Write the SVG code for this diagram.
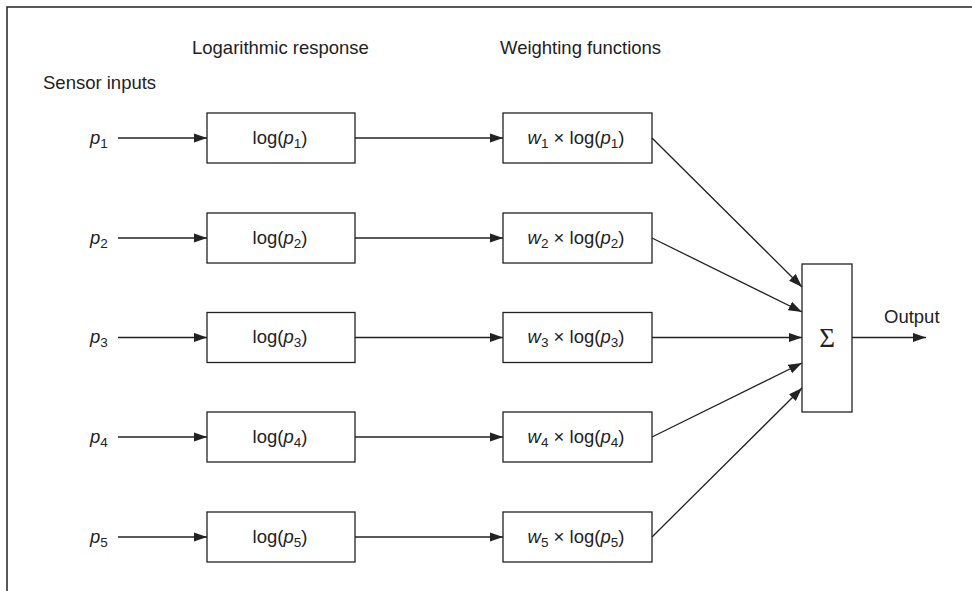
<svg xmlns="http://www.w3.org/2000/svg" width="972" height="591" viewBox="0 0 972 591">
<style>
text{font-family:"Liberation Sans",Arial,sans-serif;font-size:18.5px;fill:#222}
.c{text-anchor:middle}
.i{font-style:italic}
.s{font-size:13.5px}
.box{fill:#fff;stroke:#222;stroke-width:1.3}
.ln{stroke:#222;stroke-width:1.3;fill:none;marker-end:url(#ah)}
.sig{font-family:"Liberation Serif","Times New Roman",serif;font-size:27px}
</style>
<defs>
<marker id="ah" markerUnits="userSpaceOnUse" markerWidth="14" markerHeight="10" refX="13.5" refY="4.75" orient="auto">
<path d="M0,0 L13.5,4.75 L0,9.5 Z" fill="#222"/>
</marker>
</defs>
<rect width="972" height="591" fill="#fff"/>
<path d="M7,591 V7 H972" fill="none" stroke="#222" stroke-width="1.5"/>
<g id="headers">
<text x="43" y="89">Sensor inputs</text>
<text x="192" y="54">Logarithmic response</text>
<text x="500" y="54">Weighting functions</text>
</g>
<g id="inputs">
<text x="90" y="144" class="i">p<tspan class="s" dy="4" font-style="normal">1</tspan></text>
<text x="90" y="244" class="i">p<tspan class="s" dy="4" font-style="normal">2</tspan></text>
<text x="90" y="343" class="i">p<tspan class="s" dy="4" font-style="normal">3</tspan></text>
<text x="90" y="443" class="i">p<tspan class="s" dy="4" font-style="normal">4</tspan></text>
<text x="90" y="543" class="i">p<tspan class="s" dy="4" font-style="normal">5</tspan></text>
</g>
<g id="log1"><rect class="box" x="207" y="113" width="148" height="50"/><text class="c" x="280" y="144">log(<tspan class="i">p</tspan><tspan class="s" dy="4">1</tspan><tspan dy="-4">)</tspan></text></g>
<g id="log2"><rect class="box" x="207" y="213" width="148" height="50"/><text class="c" x="280" y="244">log(<tspan class="i">p</tspan><tspan class="s" dy="4">2</tspan><tspan dy="-4">)</tspan></text></g>
<g id="log3"><rect class="box" x="207" y="312.5" width="148" height="50"/><text class="c" x="280" y="343">log(<tspan class="i">p</tspan><tspan class="s" dy="4">3</tspan><tspan dy="-4">)</tspan></text></g>
<g id="log4"><rect class="box" x="207" y="412" width="148" height="50"/><text class="c" x="280" y="443">log(<tspan class="i">p</tspan><tspan class="s" dy="4">4</tspan><tspan dy="-4">)</tspan></text></g>
<g id="log5"><rect class="box" x="207" y="512" width="148" height="50"/><text class="c" x="280" y="543">log(<tspan class="i">p</tspan><tspan class="s" dy="4">5</tspan><tspan dy="-4">)</tspan></text></g>
<g id="w1"><rect class="box" x="503" y="113" width="149" height="50"/><text class="c" x="576" y="144"><tspan class="i">w</tspan><tspan class="s" dy="4">1</tspan><tspan dy="-4"> × log(</tspan><tspan class="i">p</tspan><tspan class="s" dy="4">1</tspan><tspan dy="-4">)</tspan></text></g>
<g id="w2"><rect class="box" x="503" y="213" width="149" height="50"/><text class="c" x="576" y="244"><tspan class="i">w</tspan><tspan class="s" dy="4">2</tspan><tspan dy="-4"> × log(</tspan><tspan class="i">p</tspan><tspan class="s" dy="4">2</tspan><tspan dy="-4">)</tspan></text></g>
<g id="w3"><rect class="box" x="503" y="312.5" width="149" height="50"/><text class="c" x="576" y="343"><tspan class="i">w</tspan><tspan class="s" dy="4">3</tspan><tspan dy="-4"> × log(</tspan><tspan class="i">p</tspan><tspan class="s" dy="4">3</tspan><tspan dy="-4">)</tspan></text></g>
<g id="w4"><rect class="box" x="503" y="412" width="149" height="50"/><text class="c" x="576" y="443"><tspan class="i">w</tspan><tspan class="s" dy="4">4</tspan><tspan dy="-4"> × log(</tspan><tspan class="i">p</tspan><tspan class="s" dy="4">4</tspan><tspan dy="-4">)</tspan></text></g>
<g id="w5"><rect class="box" x="503" y="512" width="149" height="50"/><text class="c" x="576" y="543"><tspan class="i">w</tspan><tspan class="s" dy="4">5</tspan><tspan dy="-4"> × log(</tspan><tspan class="i">p</tspan><tspan class="s" dy="4">5</tspan><tspan dy="-4">)</tspan></text></g>
<g id="sum"><rect class="box" x="802" y="264" width="50" height="148"/><text class="c sig" x="827" y="347">Σ</text></g>
<g id="output"><text x="884" y="323">Output</text></g>
<g id="connectors">
<line class="ln" x1="118" y1="138" x2="207" y2="138"/>
<line class="ln" x1="118" y1="238" x2="207" y2="238"/>
<line class="ln" x1="118" y1="337.5" x2="207" y2="337.5"/>
<line class="ln" x1="118" y1="437" x2="207" y2="437"/>
<line class="ln" x1="118" y1="537" x2="207" y2="537"/>
<line class="ln" x1="355" y1="138" x2="503" y2="138"/>
<line class="ln" x1="355" y1="238" x2="503" y2="238"/>
<line class="ln" x1="355" y1="337.5" x2="503" y2="337.5"/>
<line class="ln" x1="355" y1="437" x2="503" y2="437"/>
<line class="ln" x1="355" y1="537" x2="503" y2="537"/>
<line class="ln" x1="652" y1="138" x2="802" y2="287"/>
<line class="ln" x1="652" y1="238" x2="802" y2="312"/>
<line class="ln" x1="652" y1="337.5" x2="802" y2="337.5"/>
<line class="ln" x1="652" y1="437" x2="802" y2="363"/>
<line class="ln" x1="652" y1="537" x2="802" y2="388"/>
<line class="ln" x1="852" y1="337.5" x2="926" y2="337.5"/>
</g>
</svg>
